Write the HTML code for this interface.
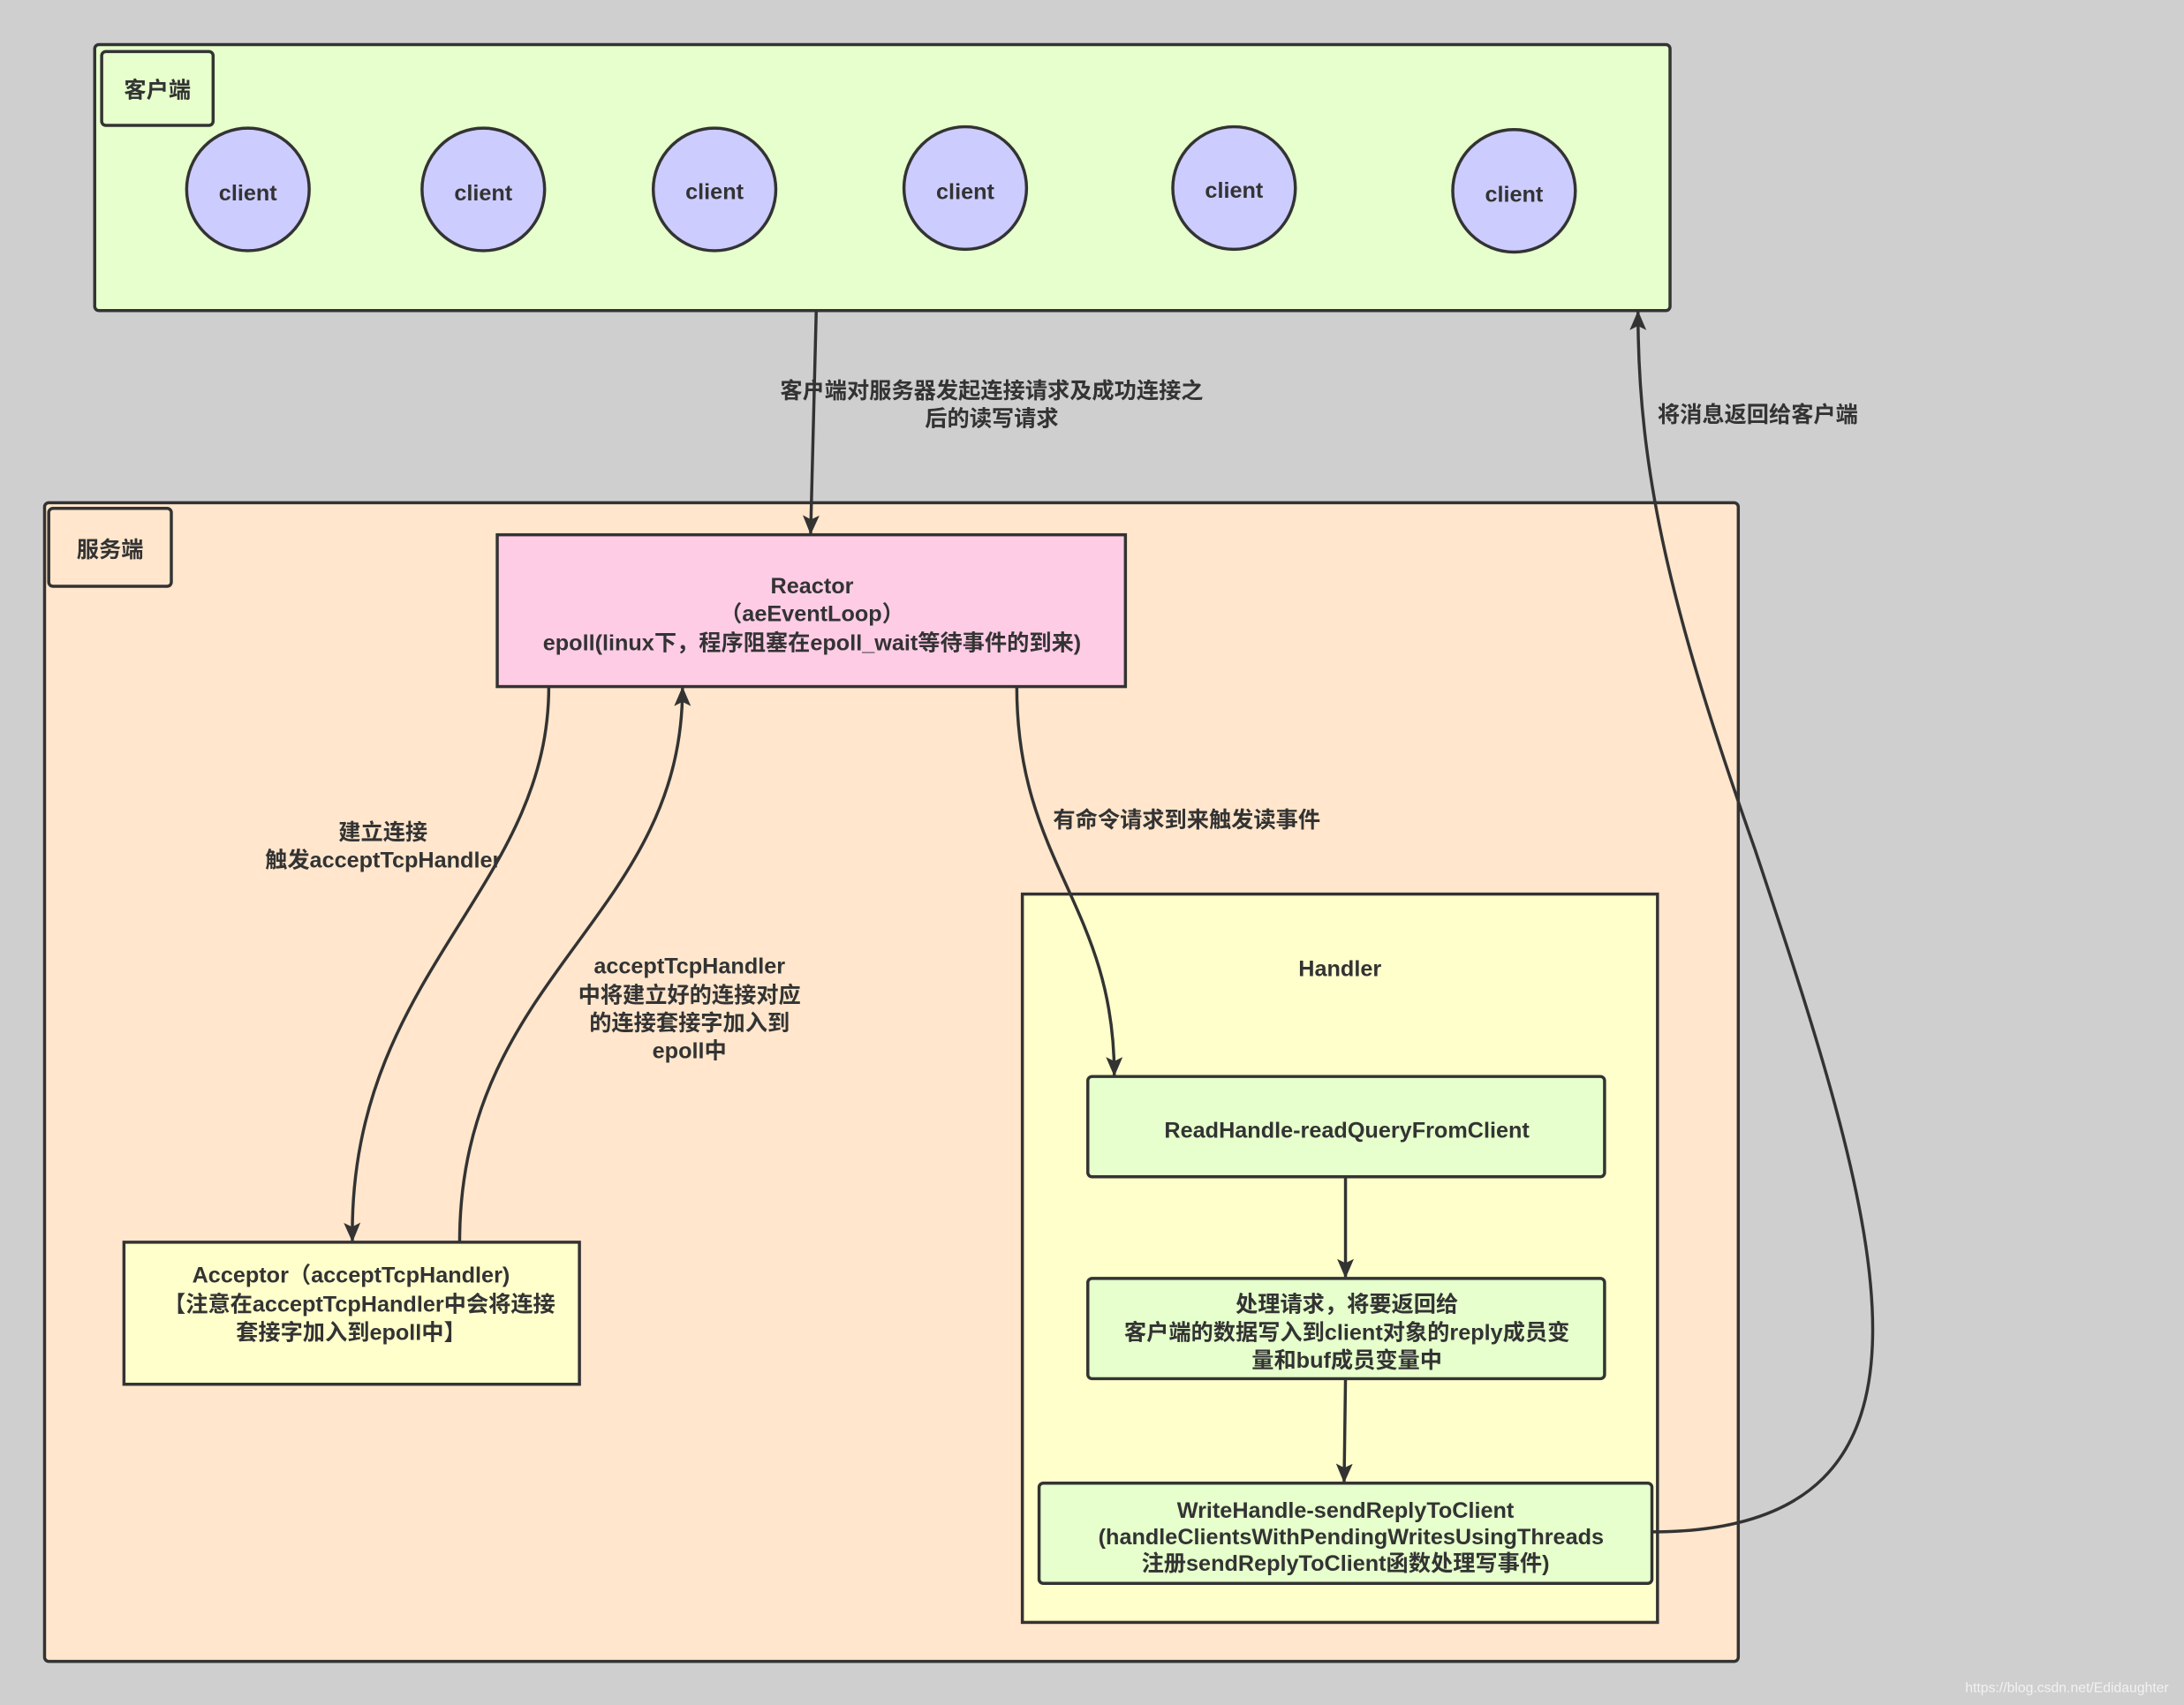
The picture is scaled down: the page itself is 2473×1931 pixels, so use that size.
<!DOCTYPE html>
<html><head><meta charset="utf-8"><style>
html,body{margin:0;padding:0;background:#cfcfcf;}
svg{display:block}
text{font-family:"Liberation Sans","Noto Sans CJK SC",sans-serif;font-weight:bold;fill:#333;font-size:16px;text-anchor:middle}
</style></head><body>
<svg width="2473" height="1931" viewBox="0 0 1568 1224.3" xmlns="http://www.w3.org/2000/svg">
<defs><marker id="a" markerWidth="12" markerHeight="14" refX="13" refY="6" orient="auto" markerUnits="userSpaceOnUse"><path d="M0,0 L14,6 L0,12 L3,6 Z" fill="#333"/></marker></defs>
<rect width="1568" height="1225" fill="#cfcfcf"/>
<rect x="68" y="32" width="1131" height="191" rx="3" fill="#e6ffcc" stroke="#333" stroke-width="2.2"/>
<rect x="73" y="37" width="80" height="53" rx="3" fill="#e6ffcc" stroke="#333" stroke-width="2.2"/>
<text x="113" y="70">客户端</text>
<g fill="#ccccff" stroke="#333" stroke-width="2.2">
<circle cx="178" cy="136" r="44"/><circle cx="347" cy="136" r="44"/><circle cx="513" cy="136" r="44"/><circle cx="693" cy="135" r="44"/><circle cx="886" cy="135" r="44"/><circle cx="1087" cy="137" r="44"/></g>
<text x="178" y="144" font-size="17">client</text><text x="347" y="144" font-size="17">client</text><text x="513" y="143" font-size="17">client</text><text x="693" y="143" font-size="17">client</text><text x="886" y="142" font-size="17">client</text><text x="1087" y="145" font-size="17">client</text>
<rect x="32" y="361" width="1216" height="832" rx="3" fill="#ffe6cc" stroke="#333" stroke-width="2.2"/>
<rect x="35" y="365" width="88" height="56" rx="3" fill="#ffe6cc" stroke="#333" stroke-width="2.2"/>
<text x="79" y="400">服务端</text>
<rect x="357" y="384" width="451" height="109" fill="#ffcce6" stroke="#333" stroke-width="2.2"/>
<text x="583" y="426">Reactor</text><text x="583" y="446">（aeEventLoop）</text><text x="583" y="467">epoll(linux下，程序阻塞在epoll_wait等待事件的到来)</text>
<rect x="734" y="642" width="456" height="523" fill="#ffffcc" stroke="#333" stroke-width="2.2"/>
<text x="962" y="701">Handler</text>
<rect x="781" y="773" width="371" height="72" rx="3" fill="#e6ffcc" stroke="#333" stroke-width="2.2"/>
<text x="967" y="817" font-size="17">ReadHandle-readQueryFromClient</text>
<rect x="781" y="918" width="371" height="72" rx="3" fill="#e6ffcc" stroke="#333" stroke-width="2.2"/>
<text x="967" y="942">处理请求，将要返回给</text><text x="967" y="962">客户端的数据写入到client对象的reply成员变</text><text x="967" y="982">量和buf成员变量中</text>
<rect x="746" y="1065" width="440" height="72" rx="3" fill="#e6ffcc" stroke="#333" stroke-width="2.2"/>
<text x="966" y="1090">WriteHandle-sendReplyToClient</text><text x="970" y="1109">(handleClientsWithPendingWritesUsingThreads</text><text x="966" y="1128">注册sendReplyToClient函数处理写事件)</text>
<rect x="89" y="892" width="327" height="102" fill="#ffffcc" stroke="#333" stroke-width="2.2"/>
<text x="252" y="921">Acceptor（acceptTcpHandler)</text><text x="258" y="942">【注意在acceptTcpHandler中会将连接</text><text x="252" y="962">套接字加入到epoll中】</text>
<g fill="none" stroke="#333" stroke-width="2.2" marker-end="url(#a)">
<path d="M586,224 L582,383"/>
<path d="M1186,1100 C1420,1100 1350,880 1260,610 C1200,440 1176,340 1176,224"/>
<path d="M394,493 C394,640 250,700 253,891"/>
<path d="M330,892 C330,700 490,660 490,494"/>
<path d="M730,493 C730,620 800,650 800,772"/>
<path d="M966,845 L966,917"/>
<path d="M966,990 L965,1064"/>
</g>
<text x="712" y="286">客户端对服务器发起连接请求及成功连接之</text><text x="712" y="306">后的读写请求</text>
<text x="1262" y="303">将消息返回给客户端</text>
<text x="275" y="603">建立连接</text><text x="275" y="623">触发acceptTcpHandler</text>
<text x="495" y="699">acceptTcpHandler</text><text x="495" y="720">中将建立好的连接对应</text><text x="495" y="740">的连接套接字加入到</text><text x="495" y="760">epoll中</text>
<text x="852" y="594">有命令请求到来触发读事件</text>
<text x="1484" y="1215" style="font-size:10px;font-weight:normal;fill:#f2f2f2">https://blog.csdn.net/Edidaughter</text>
</svg>
</body></html>
